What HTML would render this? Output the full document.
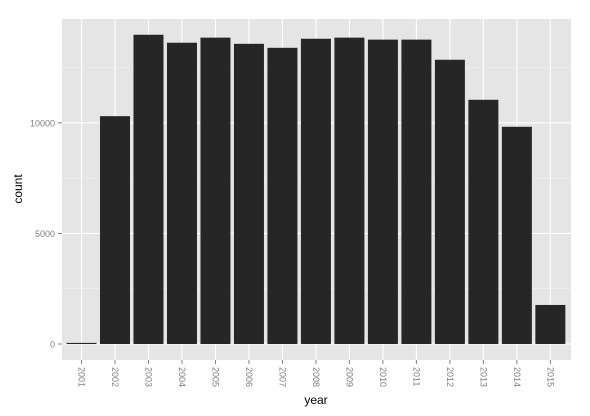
<!DOCTYPE html>
<html><head><meta charset="utf-8"><style>
body{margin:0;background:#fff;}
svg{display:block;font-family:"Liberation Sans",sans-serif;}
</style></head><body>
<svg id="chart" width="590" height="416">
<rect x="62" y="19" width="509" height="341" fill="#E5E5E5"/>
<g id="grid"></g><g id="bars"></g><g id="axes"></g>
<text x="316" y="404" text-anchor="middle" font-size="12" fill="#000">year</text>
<text transform="translate(22,189) rotate(-90)" text-anchor="middle" font-size="12" fill="#000">count</text>
</svg>
<script>
const categories=["2001","2002","2003","2004","2005","2006","2007","2008","2009","2010","2011","2012","2013","2014","2015"];
const counts=[50,10300,13980,13620,13850,13570,13390,13800,13850,13760,13760,12850,11040,9820,1765];
const yTicks=[0,5000,10000];
const yMinor=[2500,7500,12500];
const NS="http://www.w3.org/2000/svg";
const L=62,R=571,T=19,B=360;
const xStep=33.49, x0=81.5;
function x(i){return x0+i*xStep;}
function y(v){return 344-v*0.02212;}
function mk(tag,attrs,parent){const e=document.createElementNS(NS,tag);for(const k in attrs)e.setAttribute(k,attrs[k]);parent.appendChild(e);return e;}
const grid=document.getElementById('grid'),bars=document.getElementById('bars'),axes=document.getElementById('axes');
yMinor.forEach(v=>{const l=mk('line',{x1:L,x2:R,y1:y(v),y2:y(v),stroke:'#F2F2F2','stroke-width':0.6},grid);

});
yTicks.forEach(v=>{const l=mk('line',{x1:L,x2:R,y1:y(v),y2:y(v),stroke:'#fff','stroke-width':1.1},grid);


const t=mk('line',{x1:58,x2:62,y1:y(v),y2:y(v),stroke:'#7F7F7F'},axes);


const tx=mk('text',{x:55,y:y(v)+3.5,'text-anchor':'end','font-size':9,fill:'#7F7F7F'},axes);
tx.textContent=v;

});
categories.forEach((c,i)=>{const l=mk('line',{x1:x(i),x2:x(i),y1:T,y2:B,stroke:'#fff','stroke-width':1.1},grid);


const bw=30;const r=mk('rect',{x:x(i)-bw/2,y:y(counts[i]),width:bw,height:y(0)-y(counts[i]),fill:'#262626'},bars);


const t=mk('line',{x1:x(i),x2:x(i),y1:B,y2:B+4,stroke:'#7F7F7F'},axes);


const tx=mk('text',{transform:`translate(${x(i)-3},${B+7}) rotate(90)`,'font-size':9,fill:'#7F7F7F'},axes);
tx.textContent=c;

});
</script>
</body></html>
